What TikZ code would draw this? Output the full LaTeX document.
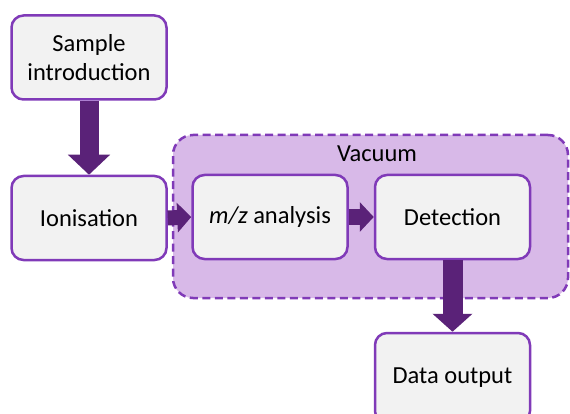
\documentclass[tikz,border=0pt]{standalone}
\usepackage{fontspec}
\setmainfont{Carlito}
\usepackage{tikz}
\usetikzlibrary{arrows.meta, calc}

\definecolor{boxline}{RGB}{128,58,184}
\definecolor{boxfill}{RGB}{242,242,242}
\definecolor{vacfill}{RGB}{216,185,232}
\definecolor{flowcol}{RGB}{90,34,120}

\tikzset{
  stage/.style={draw=boxline, fill=boxfill, line width=2.5pt, rounded corners=12pt,
    minimum width=155pt, minimum height=84pt, align=center, inner sep=0pt,
    font=\fontsize{24.5}{29}\selectfont},
  chamber/.style={draw=boxline, fill=vacfill, line width=2.5pt, rounded corners=20pt,
    dash pattern=on 8pt off 4.5pt, minimum width=395pt, minimum height=163pt, inner sep=0pt},
  flowdown/.style={draw=flowcol, line width=19pt, -{Triangle[width=41pt,length=20pt]}},
  flowright/.style={draw=flowcol, line width=15pt, -{Triangle[width=29pt,length=14pt]}},
  flowout/.style={draw=flowcol, line width=20pt, -{Triangle[width=39pt,length=18pt]}}
}

\begin{document}
\begin{tikzpicture}[x=1pt, y=-1pt]
\useasboundingbox (0,0) rectangle (570,414);

%---vacuum chamber---
\node[chamber] (vac) at (370.5,216.5) {};
\node[font=\fontsize{24.5}{29}\selectfont] (vaclbl) at (377,154) {Vacuum};

%---stages---
\node[stage] (sample) at (89,57.5) {Sample\\introduction};
\node[stage] (ion) at (89,218) {Ionisation};
\node[stage] (mz) at (270,217) {\textit{m/z} analysis};
\node[stage] (det) at (452.5,217) {Detection};
\node[stage, minimum height=90pt] (out) at (452.5,378) {Data output};

%---flow---
\draw[flowdown] (sample.south) -- (ion.north);
\draw[flowright] (ion.east) -- (mz.west);
\draw[flowright] (mz.east) -- (det.west);
\draw[flowout] (det.south) -- (out.north);

\end{tikzpicture}
\end{document}
